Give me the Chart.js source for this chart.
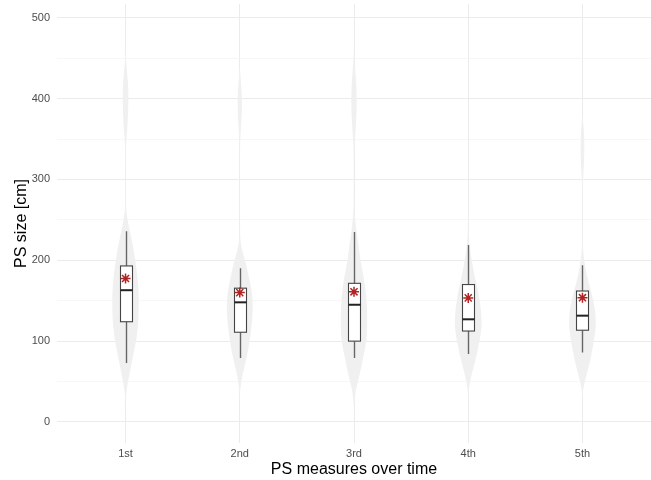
<!DOCTYPE html>
<html>
<head>
<meta charset="utf-8">
<title>PS size over time</title>
<script src="https://cdn.jsdelivr.net/npm/chart.js@4.4.1/dist/chart.umd.min.js"></script>
<style>
    html, body { margin: 0; padding: 0; background: #ffffff; }
    #wrap { width: 651px; height: 480px; }
</style>
</head>
<body>
<div id="wrap"><canvas id="psChart"></canvas></div>
<script>
// Categories and tick values
const categories = ['1st', '2nd', '3rd', '4th', '5th'];
const yTickValues = [0, 50, 100, 150, 200, 250, 300, 350, 400, 450, 500];

// Boxplot summaries per measure (cm)
const whiskerLow = [73, 79, 79, 84, 86];
const q1 = [124, 111, 100, 112.5, 113.5];
const median = [163, 148, 145, 127, 131.5];
const q3 = [193, 165.5, 171.5, 170, 162];
const whiskerHigh = [236, 190, 235, 219, 194];
const means = [177.5, 160, 161, 153.5, 153.8];

// Violin densities (relative width) read at these levels
const violinLevels = [20, 40, 60, 80, 100, 120, 140, 160, 180, 200, 220, 240,
    260, 280, 300, 320, 340, 360, 380, 400, 420, 440, 460];
const violin1st = [0, .07, .29, .52, .76, .91, .95, .95, .86, .70, .51, .25,
    .04, .02, .02, .02, .03, .11, .18, .21, .18, .07, 0];
const violin2nd = [0, .02, .21, .50, .71, .86, .95, .89, .64, .39, .04, .02,
    .02, .02, .02, .02, .02, .07, .14, .16, .09, 0, 0];
const violin3rd = [.02, .12, .43, .66, .91, .95, .95, .86, .69, .46, .32, .14,
    .04, .02, .02, .02, .03, .11, .18, .20, .16, .07, 0];
const violin4th = [0, .02, .25, .57, .82, .99, .91, .74, .46, .25, .07, .02,
    .02, 0, 0, 0, 0, 0, 0, 0, 0, 0, 0];
const violin5th = [0, .02, .32, .61, .82, .99, .91, .64, .32, .11, .02, .02,
    .02, .02, .04, .11, .14, .11, 0, 0, 0, 0, 0];
const violins = [violin1st, violin2nd, violin3rd, violin4th, violin5th];

// Style
const FONT = '"Liberation Sans", Arial, Helvetica, sans-serif';
const VIOLIN_HALF = 0.122;   // half width of densest part, in category units
const BOX_WIDTH = 0.105;     // in category units
const VIOLIN_FILL = '#F0F0F0';

Chart.defaults.font.family = FONT;

function smoothClosedPath(ctx, pts) {
    const n = pts.length;
    const mid = (a, b) => [(a[0] + b[0]) / 2, (a[1] + b[1]) / 2];
    const start = mid(pts[n - 1], pts[0]);
    ctx.beginPath();
    ctx.moveTo(start[0], start[1]);
    for (let i = 0; i < n; i++) {
        const p = pts[i];
        const m = mid(p, pts[(i + 1) % n]);
        ctx.quadraticCurveTo(p[0], p[1], m[0], m[1]);
    }
    ctx.closePath();
}

// no extra padding around the panel for edge tick labels
function noScalePadding(s) {
    s.paddingTop = 0;
    s.paddingBottom = 0;
    s.paddingLeft = 0;
    s.paddingRight = 0;
}

// Draws violins and boxplots under the mean markers
const violinBoxPlugin = {
    id: 'violinBox',
    beforeDatasetsDraw(chart) {
        const {ctx, chartArea, scales: {x, y}} = chart;
        const step = x.getPixelForValue(2) - x.getPixelForValue(1);
        ctx.save();
        ctx.beginPath();
        ctx.rect(chartArea.left, chartArea.top, chartArea.width, chartArea.height);
        ctx.clip();

        // violins
        violins.forEach((dens, i) => {
            const cx = x.getPixelForValue(i + 1);
            let first = dens.findIndex(d => d > 0);
            let last = dens.length - 1 - dens.slice().reverse().findIndex(d => d > 0);
            const lo = Math.max(0, first - 1);
            const hi = Math.min(dens.length - 1, last + 1);
            const pts = [];
            for (let k = lo; k <= hi; k++) {
                pts.push([cx + dens[k] * VIOLIN_HALF * step, y.getPixelForValue(violinLevels[k])]);
            }
            for (let k = hi; k >= lo; k--) {
                pts.push([cx - dens[k] * VIOLIN_HALF * step, y.getPixelForValue(violinLevels[k])]);
            }
            smoothClosedPath(ctx, pts);
            ctx.fillStyle = VIOLIN_FILL;
            ctx.fill();
        });

        // boxplots
        const bw = BOX_WIDTH * step;
        categories.forEach((c, i) => {
            const cx = Math.round(x.getPixelForValue(i + 1)) + 0.5;
            const yLo = y.getPixelForValue(whiskerLow[i]);
            const yQ1 = y.getPixelForValue(q1[i]);
            const yMed = y.getPixelForValue(median[i]);
            const yQ3 = y.getPixelForValue(q3[i]);
            const yHi = y.getPixelForValue(whiskerHigh[i]);

            ctx.strokeStyle = '#666666';
            ctx.lineWidth = 1.4;
            ctx.beginPath();
            ctx.moveTo(cx, yHi); ctx.lineTo(cx, yQ3);
            ctx.moveTo(cx, yQ1); ctx.lineTo(cx, yLo);
            ctx.stroke();

            ctx.fillStyle = '#ffffff';
            ctx.fillRect(cx - bw / 2, yQ3, bw, yQ1 - yQ3);
            ctx.strokeStyle = '#444444';
            ctx.lineWidth = 1.1;
            ctx.strokeRect(cx - bw / 2, yQ3, bw, yQ1 - yQ3);

            ctx.strokeStyle = '#222222';
            ctx.lineWidth = 2;
            ctx.beginPath();
            ctx.moveTo(cx - bw / 2, yMed); ctx.lineTo(cx + bw / 2, yMed);
            ctx.stroke();
        });
        ctx.restore();
    }
};

const ctx = document.getElementById('psChart').getContext('2d');
new Chart(ctx, {
    type: 'scatter',
    data: {
        datasets: [{
            label: 'Mean',
            data: means.map((m, i) => ({x: i + 1, y: m})),
            pointStyle: 'star',
            radius: 5,
            borderColor: '#B22222',
            backgroundColor: '#B22222',
            borderWidth: 1.5
        }]
    },
    options: {
        responsive: true,
        maintainAspectRatio: false,
        animation: false,
        layout: {autoPadding: false, padding: {top: 4, left: 0, right: 0, bottom: 0}},
        plugins: {
            legend: {display: false},
            tooltip: {enabled: false}
        },
        scales: {
            x: {
                type: 'linear',
                min: 0.4,
                max: 5.6,
                afterBuildTicks: s => { s.ticks = categories.map((c, i) => ({value: i + 1})); },
                afterFit: s => { s.height = 37; noScalePadding(s); },
                ticks: {
                    callback: v => categories[v - 1],
                    color: '#4D4D4D',
                    font: {size: 11},
                    padding: 4,
                    autoSkip: false,
                    maxRotation: 0
                },
                grid: {color: '#EBEBEB', lineWidth: 1, drawTicks: false},
                border: {display: false},
                title: {
                    display: true,
                    text: 'PS measures over time',
                    color: '#000000',
                    font: {size: 16},
                    padding: {top: 0, bottom: 1}
                }
            },
            y: {
                type: 'linear',
                min: -26,
                max: 517,
                afterBuildTicks: s => { s.ticks = yTickValues.map(v => ({value: v})); },
                afterFit: s => { s.width = 57; noScalePadding(s); },
                ticks: {
                    callback: v => (v % 100 === 0 ? String(v) : ''),
                    color: '#4D4D4D',
                    font: {size: 11},
                    padding: 7,
                    autoSkip: false
                },
                grid: {
                    color: c => (c.tick && c.tick.value % 100 === 0 ? '#EBEBEB' : '#F3F3F3'),
                    lineWidth: c => (c.tick && c.tick.value % 100 === 0 ? 1 : 0.7),
                    drawTicks: false
                },
                border: {display: false},
                title: {
                    display: true,
                    text: 'PS size [cm]',
                    color: '#000000',
                    font: {size: 16},
                    padding: {top: 12, bottom: 0}
                }
            }
        }
    },
    plugins: [violinBoxPlugin]
});
</script>
</body>
</html>
